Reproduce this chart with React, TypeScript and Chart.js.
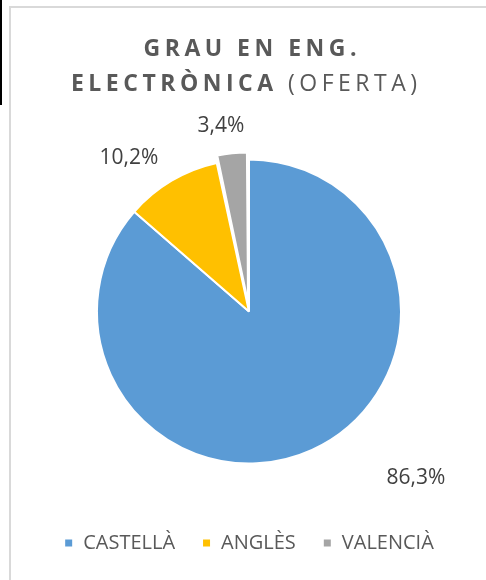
import React, { useEffect, useRef } from "react";
import { Chart, registerables } from "chart.js";

Chart.register(...registerables);

const categories = ["CASTELLÀ", "ANGLÈS", "VALENCIÀ"];
const shares = [86.3, 10.2, 3.4];
const valueLabels = ["86,3%", "10,2%", "3,4%"];
const sliceColors = ["#5B9BD5", "#FFC000", "#A5A5A5"];
const sliceExplode = [0, 0, 9];
const titleLine1 = "GRAU EN ENG.";
const titleLine2Bold = "ELECTRÒNICA";
const titleLine2Normal = " (OFERTA)";

// label placement (style): clockwise degrees from 12 o'clock, distance from pie centre
const labelAngles = [135, 322, 351.4];
const labelDistances = [236, 195, 188];

const PIE_RADIUS = 152;
const FONT = "'Open Sans', 'DejaVu Sans', sans-serif";

const titlePlugin = {
  id: "customTitle",
  afterDraw(chart: any) {
    const ctx = chart.ctx as CanvasRenderingContext2D;
    ctx.save();
    ctx.fillStyle = "#595959";
    ctx.textBaseline = "alphabetic";
    ctx.textAlign = "left";
    const spacing = 4.5;
    const drawSpaced = (parts: { text: string; font: string }[], cx: number, y: number) => {
      let total = 0;
      parts.forEach((p) => {
        ctx.font = p.font;
        for (const ch of p.text) total += ctx.measureText(ch).width + spacing;
      });
      total -= spacing;
      let x = cx - total / 2;
      parts.forEach((p) => {
        ctx.font = p.font;
        for (const ch of p.text) {
          ctx.fillText(ch, x, y);
          x += ctx.measureText(ch).width + spacing;
        }
      });
    };
    const bold = `bold 23px ${FONT}`;
    const normal = `23px ${FONT}`;
    drawSpaced([{ text: titleLine1, font: bold }], 250, 56);
    drawSpaced(
      [
        { text: titleLine2Bold, font: bold },
        { text: titleLine2Normal, font: normal },
      ],
      244,
      91
    );
    ctx.restore();
  },
};

// Chart.js translates an offset arc by offset/4 and grows it by offset/4;
// keep exploded slices at the common radius.
const explodePlugin = {
  id: "explodeKeepRadius",
  beforeDatasetsDraw(chart: any) {
    const meta = chart.getDatasetMeta(0);
    meta.data.forEach((arc: any, i: number) => {
      arc.outerRadius = PIE_RADIUS - sliceExplode[i];
    });
  },
};

const valueLabelPlugin = {
  id: "valueLabels",
  afterDatasetsDraw(chart: any) {
    const ctx = chart.ctx as CanvasRenderingContext2D;
    const meta = chart.getDatasetMeta(0);
    ctx.save();
    ctx.font = `21px ${FONT}`;
    ctx.fillStyle = "#404040";
    ctx.textAlign = "center";
    ctx.textBaseline = "middle";
    meta.data.forEach((arc: any, i: number) => {
      const a = ((labelAngles[i] - 90) * Math.PI) / 180;
      const x = arc.x + Math.cos(a) * labelDistances[i];
      const y = arc.y + Math.sin(a) * labelDistances[i];
      ctx.fillText(valueLabels[i], x, y);
    });
    ctx.restore();
  },
};

export default function App() {
  const canvasRef = useRef<HTMLCanvasElement | null>(null);

  useEffect(() => {
    if (!canvasRef.current) return;
    const chart = new Chart(canvasRef.current, {
      type: "pie",
      data: {
        labels: categories,
        datasets: [
          {
            data: shares,
            backgroundColor: sliceColors,
            borderColor: "#FFFFFF",
            borderWidth: 2,
            offset: sliceExplode.map((v) => v * 4),
            radius: PIE_RADIUS,
          } as any,
        ],
      },
      options: {
        animation: false,
        responsive: true,
        maintainAspectRatio: false,
        layout: { padding: { top: 117, left: 12, right: 0, bottom: 17 } },
        plugins: {
          title: { display: false },
          tooltip: { enabled: false },
          legend: {
            display: true,
            position: "bottom",
            labels: {
              boxWidth: 9,
              boxHeight: 9,
              padding: 27,
              color: "#595959",
              font: { size: 20, family: FONT },
            },
          },
        },
      },
      plugins: [titlePlugin, explodePlugin, valueLabelPlugin],
    });
    return () => chart.destroy();
  }, []);

  return (
    <div style={{ position: "fixed", left: 0, top: 0, width: 486, height: 580, background: "#FFFFFF", overflow: "hidden" }}>
      <div style={{ position: "absolute", left: 9, top: 6, width: 490, height: 590, border: "2px solid #D9D9D9", boxSizing: "border-box" }} />
      <div style={{ position: "absolute", left: 0, top: 0, width: 2, height: 105, background: "#000000" }} />
      <div style={{ position: "absolute", left: 0, top: 0, width: 486, height: 580 }}>
        <canvas ref={canvasRef} />
      </div>
    </div>
  );
}
